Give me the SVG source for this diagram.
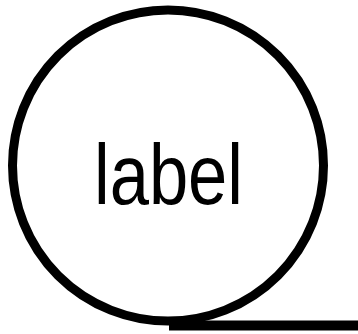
<svg xmlns="http://www.w3.org/2000/svg" width="358" height="334" viewBox="0 0 358 334">
<style>
.node{fill:#fff;stroke:#000;stroke-width:9}
.lbl{font-family:"Liberation Sans",Arial,sans-serif;font-size:85px;fill:#000}
.edge{stroke:#000;stroke-width:10;fill:none}
</style>
<rect width="358" height="334" fill="#fff"/>
<g id="connectors">
<line class="edge" x1="169" y1="325.5" x2="358" y2="325.5"/>
</g>
<g id="node-label">
<circle class="node" cx="168" cy="165.5" r="155.5"/>
<text class="lbl" x="168.5" y="203.5" text-anchor="middle" textLength="149" lengthAdjust="spacingAndGlyphs">label</text>
</g>
</svg>
